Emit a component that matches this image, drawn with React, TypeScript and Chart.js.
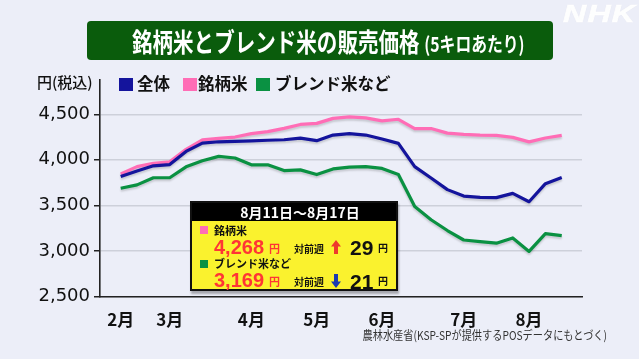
import React, { useEffect, useRef } from 'react';
import { Chart, registerables } from 'chart.js';

Chart.register(...registerables);

// ---- data ----
const monthLabels = ['2月', '3月', '4月', '5月', '6月', '7月', '8月'];
const monthStartWeek = [0, 3, 8, 12, 16, 21, 25];
const yTicks = [2500, 3000, 3500, 4000, 4500];

const overall = [3817, 3878, 3934, 3948, 4092, 4183, 4198, 4203, 4208, 4215, 4220, 4238, 4210, 4272, 4288, 4272, 4228, 4180, 3925, 3800, 3673, 3602, 3588, 3585, 3632, 3540, 3738, 3806];
const brand = [3845, 3925, 3962, 3978, 4115, 4218, 4235, 4250, 4288, 4310, 4345, 4388, 4400, 4455, 4472, 4460, 4428, 4445, 4343, 4343, 4293, 4280, 4272, 4268, 4246, 4197, 4239, 4268];
const blend = [3688, 3725, 3803, 3803, 3923, 3990, 4038, 4020, 3945, 3945, 3882, 3890, 3838, 3900, 3920, 3925, 3906, 3838, 3488, 3342, 3224, 3120, 3103, 3085, 3143, 2995, 3190, 3169];

const seriesNames = ['全体', '銘柄米', 'ブレンド米など'];
const seriesColors = ['#14149C', '#FF6DB6', '#0A9142'];

const periodLabel = '8月11日～8月17日';
const brandLatest = 4268;
const brandChange = 29;
const blendLatest = 3169;
const blendChange = 21;

const CJK = '"Noto Sans CJK JP", "Noto Sans", sans-serif';

const shadowPlugin = {
  id: 'lineShadow',
  beforeDatasetDraw(chart: any) {
    const ctx = chart.ctx;
    ctx.save();
    ctx.shadowColor = 'rgba(0,0,0,0.16)';
    ctx.shadowBlur = 2;
    ctx.shadowOffsetY = 2;
  },
  afterDatasetDraw(chart: any) {
    chart.ctx.restore();
  },
};

const fmt = (v: number) => Number(v).toLocaleString('en-US');

function Arrow({ up, color }: { up: boolean; color: string }) {
  return (
    <svg width={10} height={14} viewBox="0 0 10 14" style={{ display: 'block', transform: up ? 'none' : 'rotate(180deg)' }}>
      <path d="M5 0 L10 6.5 L7 6.5 L7 14 L3 14 L3 6.5 L0 6.5 Z" fill={color} />
    </svg>
  );
}

function abs(left: number, top: number, extra: any = {}) {
  return { position: 'absolute' as const, left, top, ...extra };
}

export default function App() {
  const ref = useRef<HTMLCanvasElement | null>(null);

  useEffect(() => {
    if (!ref.current) return;
    const series = [overall, brand, blend];
    const chart = new Chart(ref.current, {
      type: 'line',
      data: {
        datasets: series.map((s, k) => ({
          label: seriesNames[k],
          data: s.map((v, i) => ({ x: i, y: v })),
          borderColor: seriesColors[k],
          backgroundColor: seriesColors[k],
          borderWidth: 3.2,
          pointRadius: 0,
          tension: 0,
          order: k,
          borderJoinStyle: 'round' as const,
        })),
      },
      options: {
        responsive: false,
        animation: false,
        devicePixelRatio: 1,
        layout: { padding: { left: 0, top: 80, right: 57, bottom: 0 } },
        plugins: { legend: { display: false }, tooltip: { enabled: false }, title: { display: false } },
        scales: {
          x: {
            type: 'linear',
            min: -1.267,
            max: 28.24,
            afterBuildTicks: (s: any) => {
              s.ticks = monthStartWeek.map((v) => ({ value: v }));
            },
            afterFit: (s: any) => {
              s.height = 62.5;
            },
            grid: { display: false },
            border: { display: true, color: '#222', width: 1.6 },
            ticks: {
              autoSkip: false,
              maxRotation: 0,
              padding: 4.5,
              color: '#111',
              font: { family: CJK, size: 17, weight: 'bold' },
              callback: (v: any) => {
                const idx = monthStartWeek.indexOf(Number(v));
                return idx >= 0 ? monthLabels[idx] : '';
              },
            },
          },
          y: {
            min: 2500,
            max: 4876,
            afterBuildTicks: (s: any) => {
              s.ticks = yTicks.map((v) => ({ value: v }));
            },
            afterFit: (s: any) => {
              s.width = 100;
            },
            grid: { color: '#CDD0DA', lineWidth: 1.5, tickColor: '#222', tickLength: 6, drawTicks: true },
            border: { display: true, color: '#222', width: 1.6 },
            ticks: {
              padding: 4,
              color: '#111',
              font: { family: '"DejaVu Sans", sans-serif', size: 18 },
              callback: (v: any) => fmt(v),
            },
          },
        },
      } as any,
      plugins: [shadowPlugin],
    });
    return () => chart.destroy();
  }, []);

  const row = (name: string, color: string, value: number, change: number, up: boolean, dy: number) => (
    <>
      <div style={abs(199.5, 226 + dy, { width: 8, height: 8, background: color })} />
      <div style={abs(214, 224.5 + dy, { fontFamily: CJK, fontWeight: 'bold', fontSize: 11, lineHeight: '11px', color: '#111', whiteSpace: 'nowrap' })}>
        {name}
      </div>
      <div style={abs(214, 236.7 + dy, { fontFamily: '"Liberation Sans", Arial, sans-serif', fontWeight: 'bold', fontSize: 20, lineHeight: '20px', color: '#FF3535', whiteSpace: 'nowrap' })}>
        {fmt(value)}
      </div>
      <div style={abs(269, 242.5 + dy, { fontFamily: CJK, fontWeight: 'bold', fontSize: 11, lineHeight: '11px', color: '#FF3535' })}>円</div>
      <div style={abs(294, 243.5 + dy, { fontFamily: CJK, fontWeight: 'bold', fontSize: 10, lineHeight: '10px', color: '#111', whiteSpace: 'nowrap' })}>
        対前週
      </div>
      <div style={abs(330.5, 240 + dy)}>
        <Arrow up={up} color={up ? '#EE3A2C' : '#1B3BB0'} />
      </div>
      <div style={abs(350, 237 + dy, { fontFamily: '"Liberation Sans", Arial, sans-serif', fontWeight: 'bold', fontSize: 21, lineHeight: '21px', color: '#111' })}>
        {change}
      </div>
      <div style={abs(378, 242.5 + dy, { fontFamily: CJK, fontWeight: 'bold', fontSize: 10, lineHeight: '10px', color: '#111' })}>円</div>
    </>
  );

  return (
    <div style={{ position: 'fixed', left: 0, top: 0, width: 639, height: 359, background: '#ECEEF8', overflow: 'hidden' }}>
      <canvas ref={ref} width={639} height={359} style={{ position: 'absolute', left: 0, top: 0, width: 639, height: 359 }} />

      {/* NHK logo */}
      <div style={abs(563, 1, { fontFamily: '"Liberation Sans", Arial, sans-serif', fontWeight: 'bold', fontStyle: 'italic', fontSize: 24, lineHeight: '26px', color: 'rgba(255,255,255,0.95)', letterSpacing: 1, transform: 'scaleX(1.33)', transformOrigin: 'left', WebkitTextStroke: '0.6px rgba(255,255,255,0.95)', textShadow: '0 0 1px rgba(0,0,0,0.12)' })}>
        NHK
      </div>

      {/* title */}
      <div style={abs(87, 21, { width: 466, height: 39, background: '#0A5C0C', borderRadius: 4 })} />
      <div style={abs(132, 21, { height: 39, lineHeight: '39px', whiteSpace: 'nowrap', color: '#fff', fontFamily: CJK, fontWeight: 'bold', transform: 'scaleX(0.79)', transformOrigin: 'left' })}>
        <span style={{ fontSize: 26 }}>銘柄米とブレンド米の販売価格</span>
        <span style={{ fontSize: 20, marginLeft: 6 }}>(5キロあたり)</span>
      </div>

      {/* unit */}
      <div style={abs(37, 73.5, { fontFamily: CJK, fontSize: 15, fontWeight: 500, lineHeight: '15px', color: '#111', whiteSpace: 'nowrap' })}>円(税込)</div>

      {/* legend */}
      {seriesNames.map((n, k) => {
        const sx = [119, 183, 256][k];
        const tx = [137, 198, 275][k];
        return (
          <React.Fragment key={n}>
            <div style={abs(sx, 78, { width: 13.5, height: 13, background: seriesColors[k] })} />
            <div style={abs(tx, 75, { fontFamily: CJK, fontWeight: 'bold', fontSize: 16.5, lineHeight: '16.5px', color: '#111', whiteSpace: 'nowrap' })}>{n}</div>
          </React.Fragment>
        );
      })}

      {/* info box */}
      <div style={abs(190, 201, { width: 208, height: 90, boxSizing: 'border-box', border: '2px solid #111', background: '#FAF22E', boxShadow: '1px 3px 2px rgba(0,0,0,0.3)' })}>
        <div style={{ height: 18, background: '#000', color: '#fff', fontFamily: CJK, fontWeight: 'bold', fontSize: 14, lineHeight: '18px', textAlign: 'center', paddingLeft: 12, whiteSpace: 'nowrap' }}>
          {periodLabel}
        </div>
      </div>
      {row('銘柄米', seriesColors[1], brandLatest, brandChange, true, 0)}
      {row('ブレンド米など', seriesColors[2], blendLatest, blendChange, false, 33.5)}

      {/* source */}
      <div style={abs(607, 328, { fontFamily: CJK, fontSize: 12, lineHeight: '14px', color: '#333', whiteSpace: 'nowrap', transform: 'translateX(-100%) scaleX(0.85)', transformOrigin: 'right' })}>
        農林水産省(KSP-SPが提供するPOSデータにもとづく)
      </div>
    </div>
  );
}
